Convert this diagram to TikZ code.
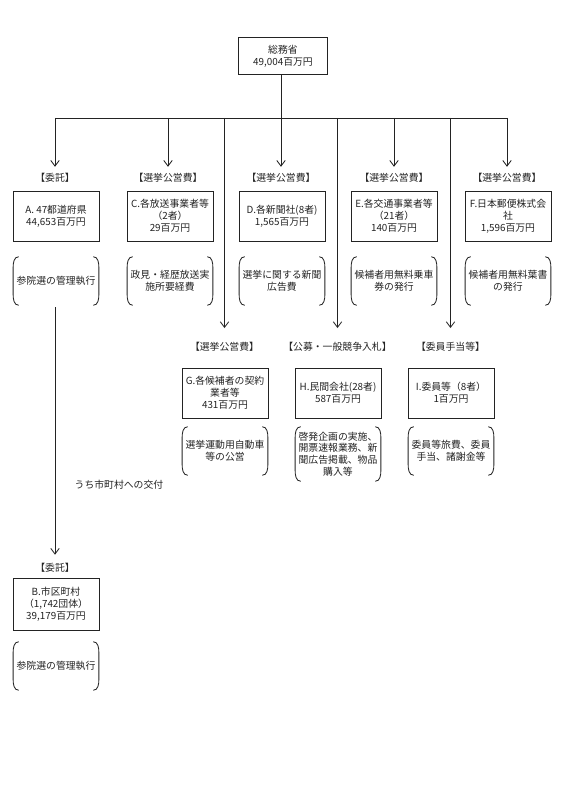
\documentclass[tikz,border=0pt]{standalone}
\usepackage{xcolor}
\usepackage{fontspec}
\setmainfont{Noto Sans CJK JP}
\usepackage{tikz}
\usetikzlibrary{arrows.meta, positioning}
\definecolor{mydark}{RGB}{35,35,35}
\newcommand{\jfont}{\fontsize{7pt}{8.4pt}\selectfont}
\tikzset{
  box/.style={rectangle, draw=mydark, text=mydark, minimum width=2.15cm,
    minimum height=1.25cm, align=center, font=\jfont, inner sep=1pt,
    line width=0.6pt},
  topbox/.style={box, minimum width=2.225cm, minimum height=0.925cm},
  tallbox/.style={box, minimum height=1.3cm},
  tag/.style={font=\jfont, text=mydark, inner sep=1pt},
  paren/.style={rectangle, minimum width=2.13cm, minimum height=1.2cm,
    align=center, font=\jfont, text=mydark, inner sep=1pt},
  arrow/.style={-{Straight Barb[length=4pt,width=6pt]}, line width=0.6pt, color=mydark},
  line/.style={line width=0.6pt, color=mydark}
}

\begin{document}
\begin{tikzpicture}[x=0.025cm, y=-0.025cm]
  \useasboundingbox (0,0) rectangle (562,799);
  % top
  \node[topbox] (moe) at (283,56) {総務省\\49,004百万円};
  \foreach \n/\x in {a/55, c/168, d/281, e/394, f/507, g/224.5, h/337.5, i/450.5}
    \coordinate (j\n) at (\x,118);
  \draw[line] (moe.south -| jd) -- (jd);
  \draw[line] (ja) -- (jf);
  % first row
  \node[tag] (ta) at (55,178) {【委託】};
  \node[tag] (tc) at (168,178) {【選挙公営費】};
  \node[tag] (td) at (281,178) {【選挙公営費】};
  \node[tag] (te) at (394,178) {【選挙公営費】};
  \node[tag] (tf) at (507,178) {【選挙公営費】};
  \node[box] (a) at (56,216) {A. 47都道府県\\44,653百万円};
  \node[box] (c) at (170,216) {C.各放送事業者等\\（2者）\\29百万円};
  \node[box] (d) at (282,216) {D.各新聞社(8者)\\1,565百万円};
  \node[box] (e) at (394,216) {E.各交通事業者等\\（21者）\\140百万円};
  \node[box] (f) at (508,216) {F.日本郵便株式会\\社\\1,596百万円};
  \node[paren] (pa) at (56,281) {参院選の管理執行};
  \node[paren] (pc) at (170,281) {政見・経歴放送実\\施所要経費};
  \node[paren] (pd) at (282,281) {選挙に関する新聞\\広告費};
  \node[paren] (pe) at (394,281) {候補者用無料乗車\\券の発行};
  \node[paren] (pf) at (508,281) {候補者用無料葉書\\の発行};
  % second row
  \node[tag] (tg) at (224.5,347) {【選挙公営費】};
  \node[tag] (th) at (337.5,347) {【公募・一般競争入札】};
  \node[tag] (ti) at (450.5,347) {【委員手当等】};
  \node[box] (g) at (225,393) {G.各候補者の契約\\業者等\\431百万円};
  \node[box] (h) at (338,393) {H.民間会社(28者)\\587百万円};
  \node[box] (i) at (451,393) {I.委員等（8者）\\1百万円};
  \node[paren] (pg) at (225,451) {選挙運動用自動車\\等の公営};
  \node[paren, minimum height=1.35cm] (ph) at (338,454) {啓発企画の実施、\\開票速報業務、新\\聞広告掲載、物品\\購入等};
  \node[paren] (pi) at (451,451) {委員等旅費、委員\\手当、諸謝金等};
  % municipalities
  \node[tag, anchor=west] (note) at (73,485) {うち市町村への交付};
  \node[tag] (tb) at (55,568) {【委託】};
  \node[tallbox] (b) at (56,604) {B.市区町村\\（1,742団体）\\39,179百万円};
  \node[paren] (pb) at (56,666) {参院選の管理執行};
  % arrows
  \foreach \n in {a,c,d,e,f}
    \draw[arrow, shorten >=3.5pt] (j\n) -- (t\n.north);
  \foreach \n in {g,h,i}
    \draw[arrow, shorten >=9pt] (j\n) -- (t\n.north);
  \draw[arrow, shorten <=1.4pt, shorten >=5pt] (pa.south -| ja) -- (tb.north);
  % round brackets
  \foreach \n in {pa,pb,pc,pd,pe,pf,pg,ph,pi} {
    \draw[line] ([xshift=4pt]\n.north west) to[out=180,in=90] ([yshift=-8pt]\n.north west)
      -- ([yshift=8pt]\n.south west) to[out=-90,in=180] ([xshift=4pt]\n.south west);
    \draw[line] ([xshift=-4pt]\n.north east) to[out=0,in=90] ([yshift=-8pt]\n.north east)
      -- ([yshift=8pt]\n.south east) to[out=-90,in=0] ([xshift=-4pt]\n.south east);
  }
\end{tikzpicture}
\end{document}
